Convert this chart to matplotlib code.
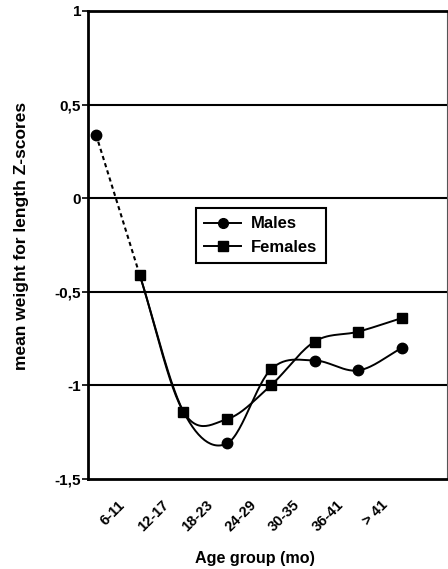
import numpy as np
import matplotlib
matplotlib.use("Agg")
import matplotlib.pyplot as plt
from matplotlib.transforms import ScaledTranslation, blended_transform_factory

# ---- data ----
age_labels = ["6-11", "12-17", "18-23", "24-29", "30-35", "36-41", "> 41"]
males = [0.34, -0.41, -1.14, -1.31, -0.915, -0.867, -0.92, -0.80]
females = [np.nan, -0.41, -1.14, -1.18, -1.00, -0.766, -0.713, -0.64]
y_ticks = [1, 0.5, 0, -0.5, -1, -1.5]
y_tick_labels = ["1", "0,5", "0", "-0,5", "-1", "-1,5"]

plt.rcParams['font.family'] = ['Liberation Sans', 'DejaVu Sans']
plt.rcParams['font.weight'] = 'bold'

W, H = 448, 569
fig = plt.figure(figsize=(W / 100, H / 100), dpi=100)
ax = fig.add_axes([88 / W, 1 - 479 / H, (447 - 88) / W, (479 - 11) / H])


def catmull(xs, ys, n=30):
    xs = np.asarray(xs, float)
    ys = np.asarray(ys, float)
    m = len(ys)
    tang = np.zeros(m)
    for i in range(m):
        a = ys[max(i - 1, 0)]
        b = ys[min(i + 1, m - 1)]
        span = min(i + 1, m - 1) - max(i - 1, 0)
        tang[i] = (b - a) / span
    ox, oy = [], []
    for i in range(m - 1):
        t = np.linspace(0, 1, n)
        h00 = 2 * t**3 - 3 * t**2 + 1
        h10 = t**3 - 2 * t**2 + t
        h01 = -2 * t**3 + 3 * t**2
        h11 = t**3 - t**2
        dx = xs[i + 1] - xs[i]
        oy.append(h00 * ys[i] + h10 * dx * tang[i] + h01 * ys[i + 1] + h11 * dx * tang[i + 1])
        ox.append(xs[i] + t * dx)
    return np.concatenate(ox), np.concatenate(oy)


x = np.arange(len(males))

# gridlines
for yv in [0.5, 0, -0.5, -1]:
    ax.axhline(yv, color='black', lw=1.5, zorder=1)

# dashed first segment (males)
ax.plot(x[:2], males[:2], color='black', lw=1.5, ls=(0, (2, 1.6)), zorder=2)

# smoothed males
mx, my = catmull(x[1:], males[1:])
ax.plot(mx, my, color='black', lw=1.4, zorder=3)
# smoothed females
fx, fy = catmull(x[1:], females[1:])
ax.plot(fx, fy, color='black', lw=1.4, zorder=3)

# markers
male_circle_idx = [0, 3, 5, 6, 7]
male_square_idx = [4]
ax.plot(x[male_circle_idx], np.array(males)[male_circle_idx], ls='none', marker='o',
        ms=7.5, color='black', zorder=4)
ax.plot(x[male_square_idx], np.array(males)[male_square_idx], ls='none', marker='s',
        ms=7.5, color='black', zorder=4)
ax.plot(x[1:], np.array(females)[1:], ls='none', marker='s', ms=7.5, color='black', zorder=5)

# legend proxies
hm, = ax.plot([], [], color='black', lw=1.4, marker='o', ms=7)
hf, = ax.plot([], [], color='black', lw=1.4, marker='s', ms=7)
leg = ax.legend([hm, hf], ["Males", "Females"], loc='upper left',
                bbox_to_anchor=(0.301, 0.579), frameon=True, fancybox=False,
                edgecolor='black', framealpha=1, fontsize=12, handlelength=2.2,
                borderpad=0.5, labelspacing=0.5, handletextpad=0.6, borderaxespad=0)
leg.get_frame().set_linewidth(1.5)

ax.set_xlim(-0.183, 8.03)
ax.set_ylim(-1.5, 1)
ax.set_yticks(y_ticks)
ax.set_yticklabels(y_tick_labels, fontsize=11, fontweight='bold')
ax.tick_params(axis='y', direction='out', length=4, width=1.2, pad=1)
ax.set_xticks([])

for s in ['left', 'bottom', 'top']:
    ax.spines[s].set_linewidth(2)
ax.spines['right'].set_linewidth(0.8)
ax.spines['right'].set_color('#555555')

trans = blended_transform_factory(ax.transData, ax.transAxes) + \
    ScaledTranslation(0.27, -0.24, fig.dpi_scale_trans)
for i, lab in enumerate(age_labels):
    ax.text(i, 0, lab, transform=trans, rotation=45, ha='right', va='center',
            rotation_mode='anchor', fontsize=10.5, fontweight='bold')

fig.text(255 / W, 1 - 558 / H, "Age group (mo)", ha='center', va='center',
         fontsize=11.6, fontweight='bold')
fig.text(22 / W, 1 - 235.5 / H, "mean weight for length Z-scores", rotation=90,
         ha='center', va='center', fontsize=12.5, fontweight='bold')

fig.savefig("out.png", dpi=100)
